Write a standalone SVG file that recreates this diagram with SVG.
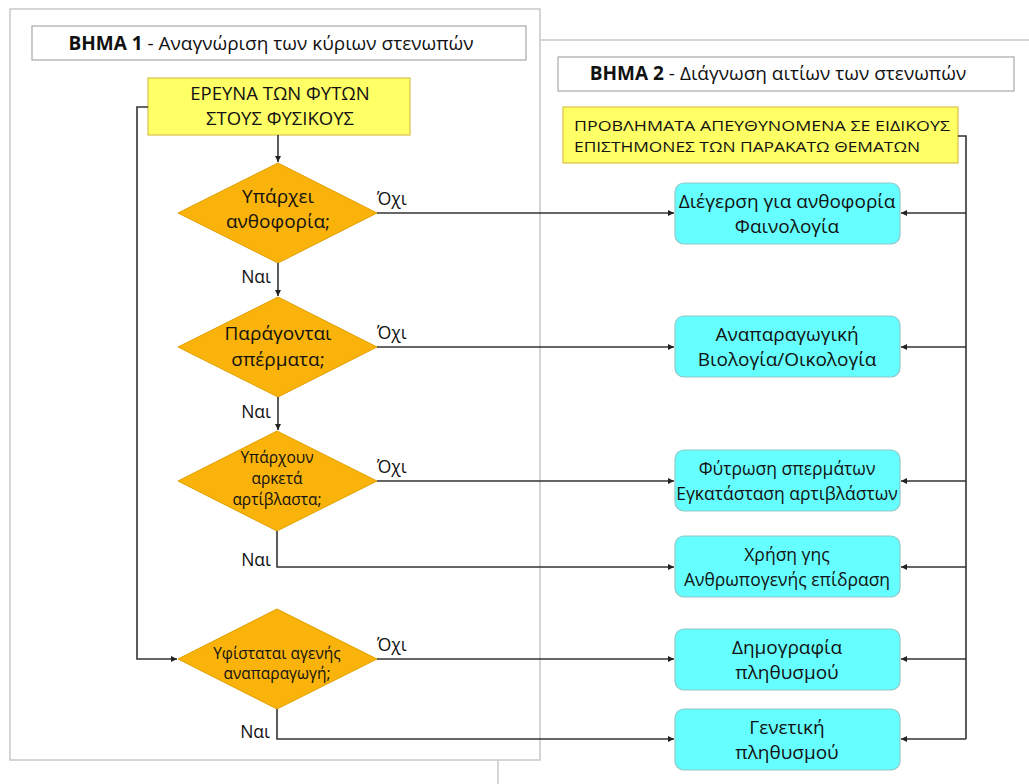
<svg xmlns="http://www.w3.org/2000/svg" width="1029" height="784" viewBox="0 0 1029 784">
<style>
.panel{fill:#fff;stroke:#c8c8c8;stroke-width:1.5}
.title{fill:#fff;stroke:#a8a8a8;stroke-width:1.2}
.yel{fill:#ffff66;stroke:#d9c24a;stroke-width:1.2}
.dia{fill:#f9b30a;stroke:#e0a000;stroke-width:1}
.cy{fill:#66ffff;stroke:#8fc8c8;stroke-width:1.2}
text{font-family:"Open Sans","Liberation Sans",sans-serif;fill:#111}
.t{font-size:19px}
.m{font-size:18.5px}
.s{font-size:15.5px}
.c{text-anchor:middle}
.b{font-weight:bold}
.lbl{font-size:17.5px}
.con{fill:none;stroke:#333;stroke-width:1.6}
</style>
<defs>
<marker id="ah" viewBox="0 0 10 10" refX="10" refY="5" markerWidth="6" markerHeight="6" orient="auto" markerUnits="userSpaceOnUse">
<path d="M0,0 L10,5 L0,10 z" fill="#222"/>
</marker>
</defs>
<rect width="1029" height="784" fill="#fff"/>
<g id="panel2"><rect class="panel" x="498" y="40" width="560" height="780"/></g>
<g id="panel1"><rect class="panel" x="10" y="9" width="530" height="751"/></g>
<g id="title1"><rect class="title" x="32" y="26" width="494" height="34"/>
<text class="t c" x="271" y="50"><tspan class="b">ΒΗΜΑ 1</tspan> - Αναγνώριση των κύριων στενωπών</text></g>
<g id="title2"><rect class="title" x="558" y="57" width="456" height="34"/>
<text class="t c" x="778" y="80"><tspan class="b">ΒΗΜΑ 2</tspan> - Διάγνωση αιτίων των στενωπών</text></g>
<g id="start"><rect class="yel" x="148" y="78" width="262" height="57"/>
<text class="m c" x="280" y="100">ΕΡΕΥΝΑ ΤΩΝ ΦΥΤΩΝ</text>
<text class="m c" x="280" y="125">ΣΤΟΥΣ ΦΥΣΙΚΟΥΣ</text></g>
<g id="experts"><rect class="yel" x="563" y="107" width="395" height="56"/>
<text x="574" y="131" style="font-size:15px" textLength="376" lengthAdjust="spacingAndGlyphs">ΠΡΟΒΛΗΜΑΤΑ ΑΠΕΥΘΥΝΟΜΕΝΑ ΣΕ ΕΙΔΙΚΟΥΣ</text>
<text x="574" y="152" style="font-size:15px" textLength="346" lengthAdjust="spacingAndGlyphs">ΕΠΙΣΤΗΜΟΝΕΣ ΤΩΝ ΠΑΡΑΚΑΤΩ ΘΕΜΑΤΩΝ</text></g>
<g id="d1"><polygon class="dia" points="278,163 377,213 278,263 178,213"/>
<text class="t c" x="278" y="203">Υπάρχει</text><text class="t c" x="278" y="228">ανθοφορία;</text></g>
<g id="d2"><polygon class="dia" points="278,297 377,347 278,397 178,347"/>
<text class="t c" x="278" y="340">Παράγονται</text><text class="t c" x="278" y="366">σπέρματα;</text></g>
<g id="d3"><polygon class="dia" points="277,431 377,481 277,531 178,481"/>
<text class="s c" x="277" y="463">Υπάρχουν</text><text class="s c" x="277" y="484">αρκετά</text><text class="s c" x="277" y="505">αρτίβλαστα;</text></g>
<g id="d4"><polygon class="dia" points="277,609 377,659 277,709 178,659"/>
<text class="s c" x="277" y="659">Υφίσταται αγενής</text><text class="s c" x="277" y="679">αναπαραγωγή;</text></g>
<g id="b1"><rect class="cy" x="675" y="183" width="225" height="61" rx="9"/>
<text class="t c" x="787" y="208">Διέγερση για ανθοφορία</text><text class="t c" x="787" y="233">Φαινολογία</text></g>
<g id="b2"><rect class="cy" x="675" y="316" width="225" height="61" rx="9"/>
<text class="t c" x="787" y="341">Αναπαραγωγική</text><text class="t c" x="787" y="366">Βιολογία/Οικολογία</text></g>
<g id="b3"><rect class="cy" x="675" y="450" width="225" height="61" rx="9"/>
<text class="c" style="font-size:17.5px" x="787" y="475">Φύτρωση σπερμάτων</text><text class="c" style="font-size:17.5px" x="787" y="500">Εγκατάσταση αρτιβλάστων</text></g>
<g id="b4"><rect class="cy" x="675" y="536" width="225" height="61" rx="9"/>
<text class="c" style="font-size:17.5px" x="787" y="561">Χρήση γης</text><text class="c" style="font-size:17.5px" x="787" y="586">Ανθρωπογενής επίδραση</text></g>
<g id="b5"><rect class="cy" x="675" y="629" width="225" height="61" rx="9"/>
<text class="t c" x="787" y="654">Δημογραφία</text><text class="t c" x="787" y="679">πληθυσμού</text></g>
<g id="b6"><rect class="cy" x="675" y="709" width="225" height="61" rx="9"/>
<text class="t c" x="787" y="734">Γενετική</text><text class="t c" x="787" y="759">πληθυσμού</text></g>
<g id="connectors">
<path class="con" d="M278,135 V162" marker-end="url(#ah)"/>
<path class="con" d="M278,263 V296" marker-end="url(#ah)"/>
<path class="con" d="M278,397 V430" marker-end="url(#ah)"/>
<path class="con" d="M277,531 V567 H674" marker-end="url(#ah)"/>
<path class="con" d="M277,709 V739 H674" marker-end="url(#ah)"/>
<path class="con" d="M148,107 H137 V659 H177" marker-end="url(#ah)"/>
<path class="con" d="M377,213 H674" marker-end="url(#ah)"/>
<path class="con" d="M377,347 H674" marker-end="url(#ah)"/>
<path class="con" d="M377,481 H674" marker-end="url(#ah)"/>
<path class="con" d="M377,659 H674" marker-end="url(#ah)"/>
<path class="con" d="M958,136 H966 V739"/>
<path class="con" d="M966,213 H901" marker-end="url(#ah)"/>
<path class="con" d="M966,347 H901" marker-end="url(#ah)"/>
<path class="con" d="M966,481 H901" marker-end="url(#ah)"/>
<path class="con" d="M966,567 H901" marker-end="url(#ah)"/>
<path class="con" d="M966,659 H901" marker-end="url(#ah)"/>
<path class="con" d="M966,739 H901" marker-end="url(#ah)"/>
<text class="lbl" x="377" y="205">Όχι</text>
<text class="lbl" x="377" y="339">Όχι</text>
<text class="lbl" x="377" y="473">Όχι</text>
<text class="lbl" x="377" y="651">Όχι</text>
<text class="lbl" x="271" y="283" text-anchor="end">Ναι</text>
<text class="lbl" x="271" y="418" text-anchor="end">Ναι</text>
<text class="lbl" x="271" y="566" text-anchor="end">Ναι</text>
<text class="lbl" x="270" y="738" text-anchor="end">Ναι</text>
</g>
</svg>
